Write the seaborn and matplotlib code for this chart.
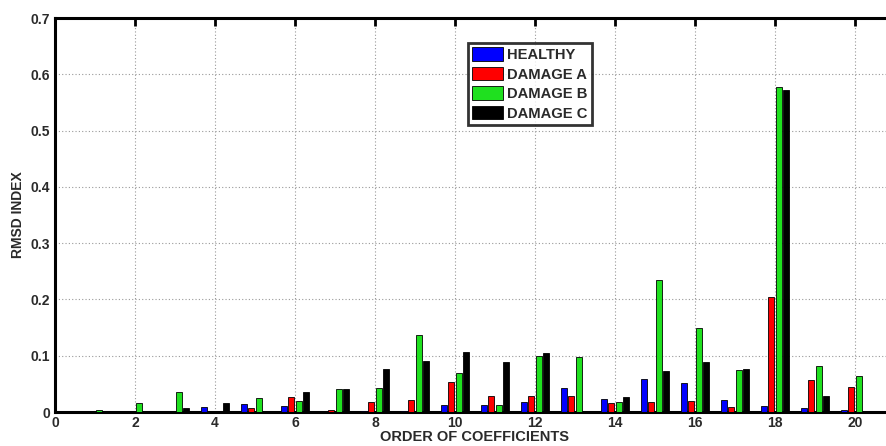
import numpy as np
import pandas as pd
import seaborn as sns
import matplotlib
matplotlib.use("Agg")
import matplotlib.pyplot as plt

orders = list(range(1, 21))
healthy  = [0, 0, 0, 0.009, 0.015, 0.011, 0, 0.002, 0.002, 0.013, 0.012, 0.018, 0.043, 0.023, 0.059, 0.052, 0.021, 0.011, 0.007, 0.004]
damage_a = [0, 0, 0, 0, 0.007, 0.026, 0.003, 0.018, 0.021, 0.053, 0.029, 0.029, 0.029, 0.016, 0.018, 0.019, 0.008, 0.204, 0.057, 0.045]
damage_b = [0.003, 0.016, 0.036, 0, 0.024, 0.019, 0.040, 0.043, 0.137, 0.070, 0.013, 0.099, 0.098, 0.017, 0.235, 0.150, 0.074, 0.578, 0.082, 0.064]
damage_c = [0, 0, 0.007, 0.016, 0, 0.036, 0.040, 0.077, 0.091, 0.106, 0.088, 0.104, 0, 0.027, 0.073, 0.089, 0.077, 0.572, 0.029, 0]
series_names = ["HEALTHY", "DAMAGE A", "DAMAGE B", "DAMAGE C"]
colors = ["#0000ff", "#ff0000", "#1fe01f", "#000000"]
xticks = list(range(0, 21, 2))
yticks = [0, 0.1, 0.2, 0.3, 0.4, 0.5, 0.6, 0.7]
ytick_labels = ["0", "0.1", "0.2", "0.3", "0.4", "0.5", "0.6", "0.7"]

rows = []
for name, vals in zip(series_names, [healthy, damage_a, damage_b, damage_c]):
    for o, v in zip(orders, vals):
        rows.append({"order": o, "value": v, "series": name})
df = pd.DataFrame(rows)

sns.set_style("white")
plt.rcParams['font.family'] = ['Liberation Sans', 'DejaVu Sans']
plt.rcParams['font.weight'] = 'bold'

fig = plt.figure(figsize=(8.86, 4.46), dpi=100)
W, H = 886, 446
left, right, top, bottom = 55, 895, 18, 412
ax = fig.add_axes([left / W, 1 - bottom / H, (right - left) / W, (bottom - top) / H])

sns.barplot(data=df, x="order", y="value", hue="series", hue_order=series_names,
            palette=colors, native_scale=True, width=0.727, gap=0.2,
            edgecolor="black", linewidth=0.6, saturation=1, errorbar=None, ax=ax, zorder=3)

ax.set_xlim(0, 21)
ax.set_ylim(0, 0.7)
ax.set_xticks(xticks)
ax.set_xticklabels([str(t) for t in xticks], fontsize=10, fontweight='bold', color='#2a2a2a')
ax.set_yticks(yticks)
ax.set_yticklabels(ytick_labels, fontsize=10, fontweight='bold', color='#2a2a2a')
ax.tick_params(axis='both', direction='in', length=6, width=2.0, color='black',
               top=True, right=True)
ax.tick_params(axis='x', pad=3)
ax.tick_params(axis='y', pad=3.5)
ax.grid(True, linestyle=(0, (1, 2)), color='#999999', linewidth=0.8, zorder=0)
ax.set_axisbelow(True)
for s in ax.spines.values():
    s.set_linewidth(2.2)
    s.set_color('black')
    s.set_visible(True)

ax.set_xlabel("ORDER OF COEFFICIENTS", fontsize=10.5, fontweight='bold', labelpad=0, color='#2a2a2a')
ax.set_ylabel("RMSD INDEX", fontsize=10, fontweight='bold', labelpad=4, color='#2a2a2a')

handles, labels = ax.get_legend_handles_labels()
leg = ax.legend(handles, labels, loc='upper left', bbox_to_anchor=(0.4917, 0.9365),
                frameon=True, fancybox=False, handlelength=2.1,
                handleheight=1.0, handletextpad=0.27, labelspacing=0.33,
                borderpad=0.3, borderaxespad=0, prop={'weight': 'bold', 'size': 10.6})
leg.get_frame().set_edgecolor('black')
leg.get_frame().set_linewidth(2.0)
leg.set_zorder(5)
for t in leg.get_texts():
    t.set_color('#2a2a2a')

fig.savefig("out.png", dpi=100)
